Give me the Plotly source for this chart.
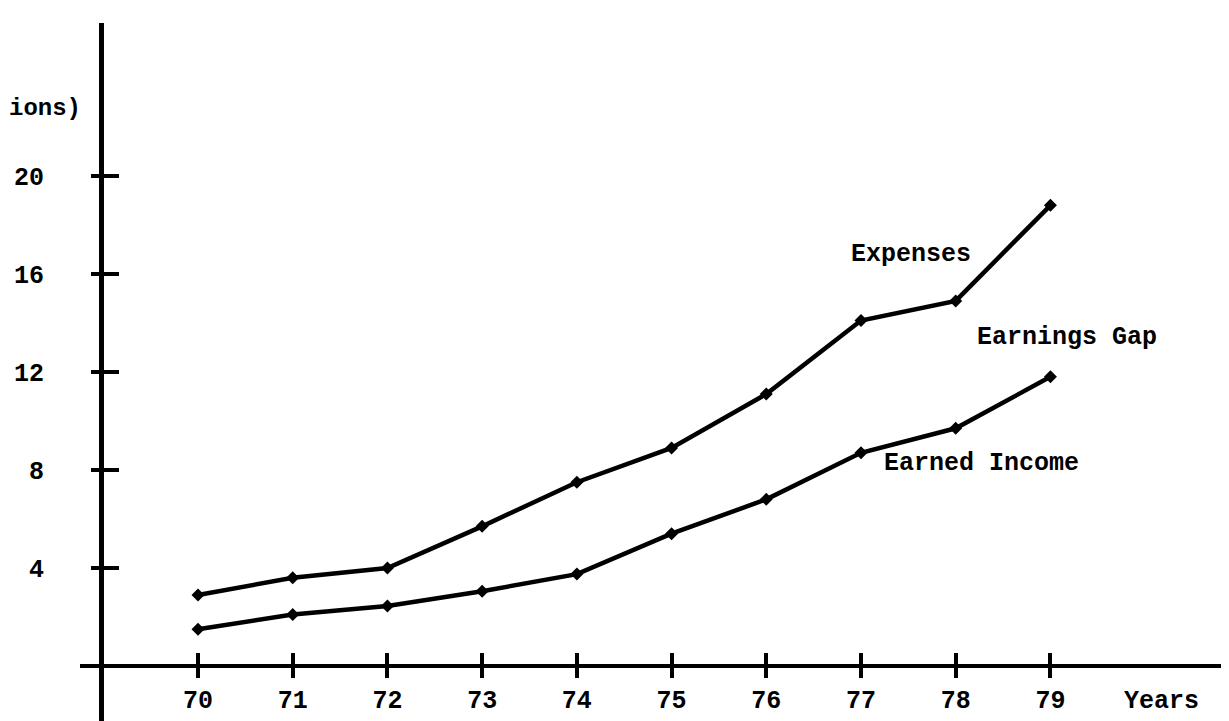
import plotly.graph_objects as go

years = [70, 71, 72, 73, 74, 75, 76, 77, 78, 79]
year_labels = ["70", "71", "72", "73", "74", "75", "76", "77", "78", "79"]
expenses = [2.9, 3.6, 4.0, 5.7, 7.5, 8.9, 11.1, 14.1, 14.9, 18.8]
earned_income = [1.5, 2.1, 2.45, 3.05, 3.75, 5.4, 6.8, 8.7, 9.7, 11.8]
y_ticks = [4, 8, 12, 16, 20]
y_tick_labels = ["4", "8", "12", "16", "20"]

W, H = 1229, 721
FONT = dict(family="Liberation Mono, Courier New, monospace", size=25, color="black")

x_range = [68.754, 80.97]
y_range = [-2.571, 26.24]
x_pos = (H - 658) / H

fig = go.Figure()
for vals in (expenses, earned_income):
    fig.add_trace(go.Scatter(
        x=years, y=vals, mode="lines+markers",
        line=dict(color="black", width=4.5),
        marker=dict(color="black", size=10, symbol="diamond"),
        showlegend=False, cliponaxis=False,
    ))

fig.update_layout(
    width=W, height=H,
    margin=dict(l=0, r=0, t=0, b=0),
    paper_bgcolor="white", plot_bgcolor="white",
    font=FONT,
    showlegend=False,
    xaxis=dict(
        domain=[72 / W, 1], range=x_range, anchor="free", position=x_pos,
        showline=True, linecolor="black", linewidth=4,
        tickvals=years, ticktext=year_labels, ticks="outside", ticklen=10,
        tickwidth=4, tickcolor="black", ticklabelstandoff=0,
        showgrid=False, zeroline=False, tickfont=dict(FONT, weight="bold"),
    ),
    xaxis2=dict(
        overlaying="x", range=x_range, anchor="free", position=x_pos,
        tickvals=years, ticks="inside", ticklen=13, tickwidth=4, tickcolor="black",
        showticklabels=False, showgrid=False, zeroline=False, showline=False,
    ),
    yaxis=dict(
        domain=[0, 1 - 15 / H], range=y_range, anchor="free", position=93 / W,
        showline=True, linecolor="black", linewidth=5,
        tickvals=y_ticks, ticktext=y_tick_labels, ticks="outside", ticklen=8,
        tickwidth=4, tickcolor="black", ticklabelstandoff=42,
        showgrid=False, zeroline=False, tickfont=dict(FONT, weight="bold"),
    ),
    yaxis2=dict(
        overlaying="y", range=y_range, anchor="free", position=93 / W,
        tickvals=y_ticks, ticks="inside", ticklen=17, tickwidth=4, tickcolor="black",
        showticklabels=False, showgrid=False, zeroline=False, showline=False,
    ),
)

# invisible trace to activate overlay axes
fig.add_trace(go.Scatter(x=[years[0]], y=[0], xaxis="x2", yaxis="y2",
                         mode="markers", marker=dict(opacity=0), showlegend=False,
                         hoverinfo="skip"))

ann_font = dict(FONT, weight="bold")
annotations = [
    dict(text="Expenses", x=77.53, y=16.8),
    dict(text="Earnings Gap", x=79.17, y=13.4),
    dict(text="Earned Income", x=78.27, y=8.25),
    dict(text="Years", x=80.17, y=-1.45),
]
for a in annotations:
    fig.add_annotation(text=a["text"], x=a["x"], y=a["y"], xref="x", yref="y",
                       showarrow=False, font=ann_font, xanchor="center", yanchor="middle")
fig.add_annotation(text="ions)", x=0, y=(H - 100) / H, xref="paper", yref="paper",
                   showarrow=False, font=dict(ann_font, size=24), borderpad=0,
                   xanchor="left", yanchor="middle")

fig.write_html("out.html")
